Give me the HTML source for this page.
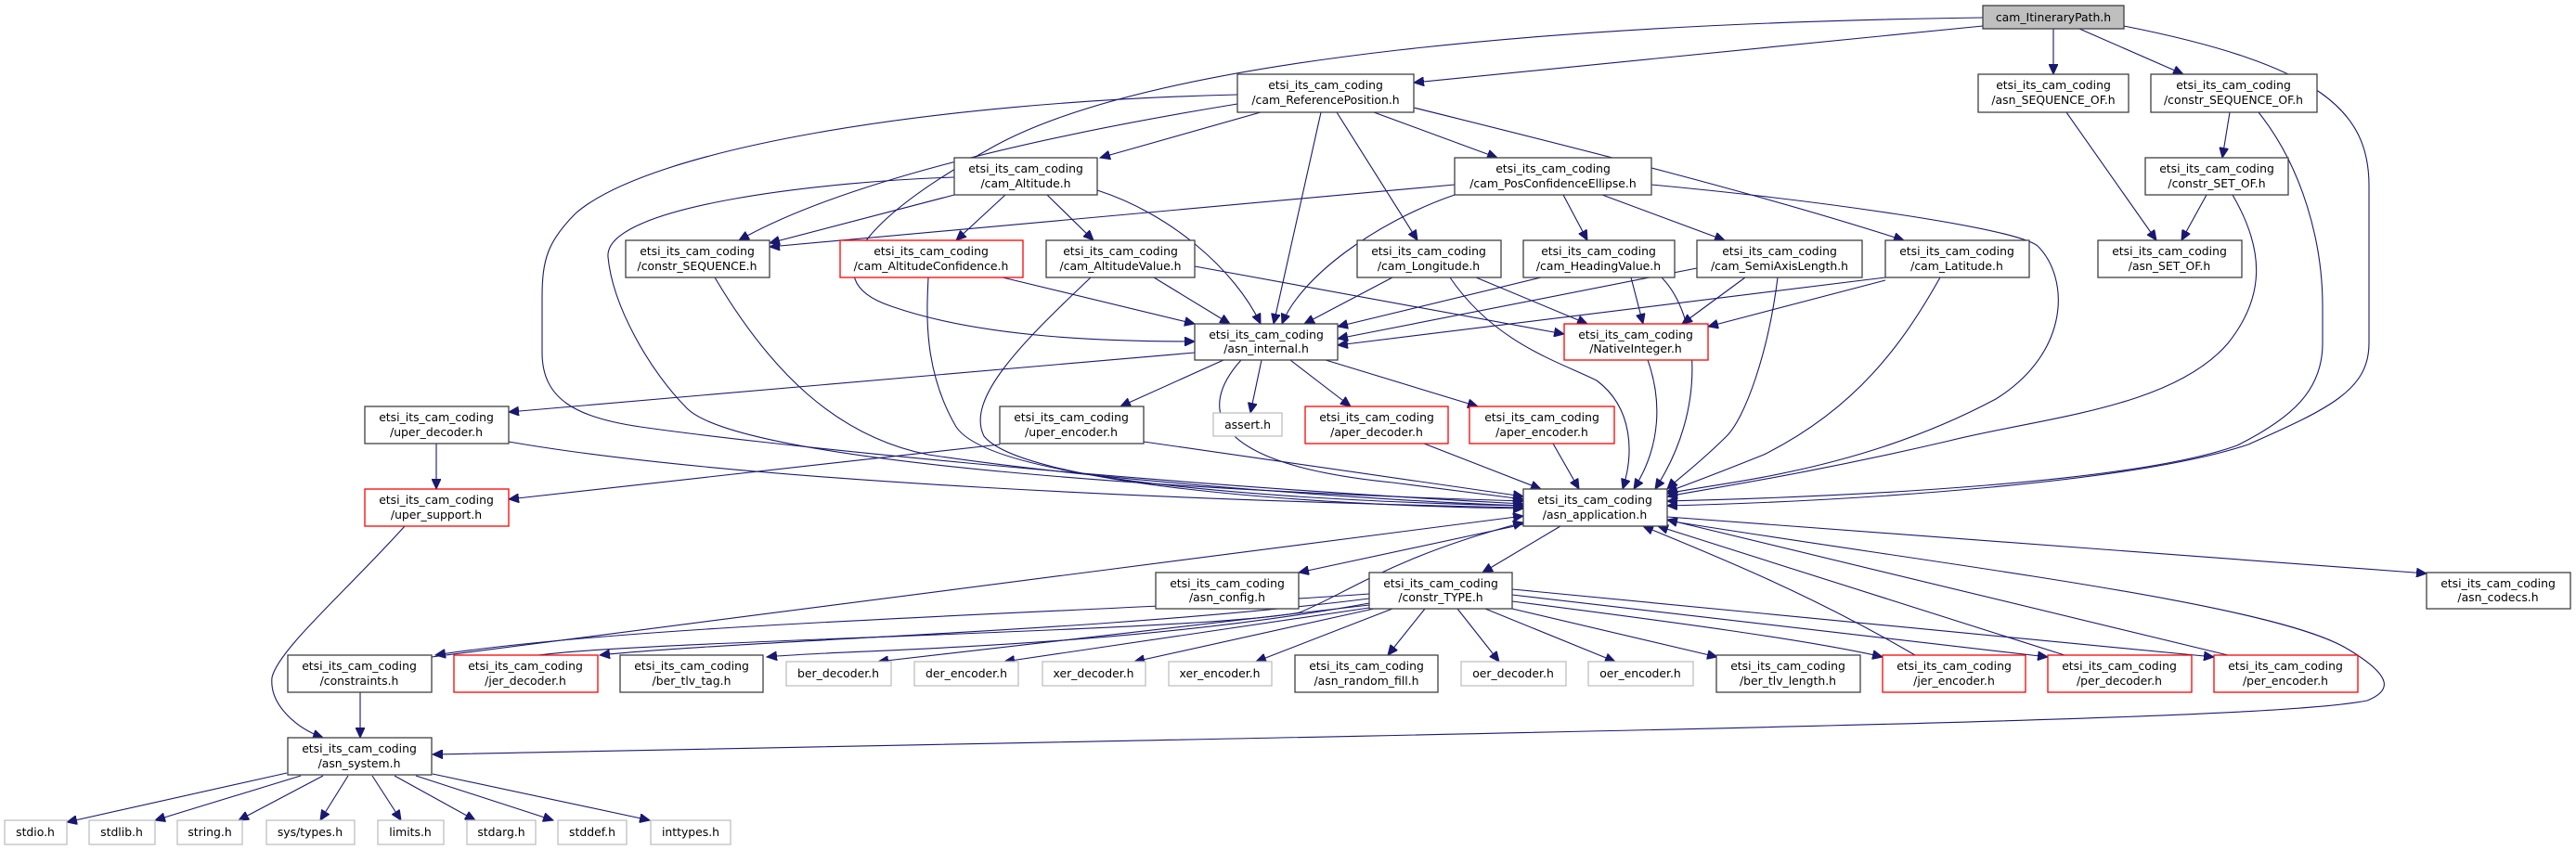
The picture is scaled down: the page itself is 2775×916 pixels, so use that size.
<!DOCTYPE html>
<html><head><meta charset="utf-8"><style>
html,body{margin:0;padding:0;background:#fff;}
svg{display:block;}
text{font-family:"DejaVu Sans","Liberation Sans",sans-serif;font-size:12.4px;fill:#000;text-anchor:middle;}
.n{fill:#fff;stroke:#404040;stroke-width:1.3;}
.r{fill:#fff;stroke:#ff0000;stroke-width:1.3;}
.g{fill:#fff;stroke:#bfbfbf;stroke-width:1.3;}
.e{fill:none;stroke:#191970;stroke-width:1.1;marker-end:url(#a);}
</style></head><body>
<svg width="2775" height="916" viewBox="0 0 2775 916" xmlns="http://www.w3.org/2000/svg">
<defs><marker id="a" markerUnits="userSpaceOnUse" markerWidth="12" markerHeight="10" refX="11" refY="5" orient="auto"><path d="M0,0 L11,5 L0,10 z" fill="#191970" stroke="#191970"/></marker></defs>
<g>
<path class="e" d="M2136,28 C1900,50 1700,70 1523,89"/>
<path class="e" d="M2212,31 L2212,80"/>
<path class="e" d="M2240,31 L2352,80"/>
<path class="e" d="M2288,28 C2500,70 2552,120 2552,200 L2552,370 C2552,420 2510,440 2422,479 C2300,520 2000,540 1796,545"/>
<path class="e" d="M2136,19 C1700,25 1250,60 1072,157 C940,230 870,300 960,330 C1060,365 1200,368 1287,368"/>
<path class="e" d="M1333,112 C1100,150 900,200 796,259"/>
<path class="e" d="M1358,121 L1185,170"/>
<path class="e" d="M1423,121 L1372,349"/>
<path class="e" d="M1440,121 L1527,259"/>
<path class="e" d="M1480,121 L1613,170"/>
<path class="e" d="M1523,116 C1700,160 1900,210 2051,259"/>
<path class="e" d="M1333,102 C1000,110 700,160 620,230 C590,260 584,280 584,320 L584,380 C584,430 620,450 690,460 C800,476 1200,520 1641,543"/>
<path class="e" d="M1028,210 L829,262"/>
<path class="e" d="M1083,210 L1030,259"/>
<path class="e" d="M1128,210 L1178,259"/>
<path class="e" d="M1182,205 C1260,230 1330,290 1358,349"/>
<path class="e" d="M1028,191 C900,195 650,220 655,277 C660,330 700,400 740,440 C800,500 1300,530 1641,540"/>
<path class="e" d="M1567,199 L829,266"/>
<path class="e" d="M1567,210 C1480,240 1400,300 1381,349"/>
<path class="e" d="M1684,210 L1710,259"/>
<path class="e" d="M1726,210 L1858,259"/>
<path class="e" d="M1779,199 C1950,215 2170,245 2195,265 C2230,300 2230,380 2150,430 C2000,510 1850,520 1796,532"/>
<path class="e" d="M1080,299 L1287,349"/>
<path class="e" d="M1000,299 C998,340 995,400 1030,460 C1070,520 1400,540 1641,545"/>
<path class="e" d="M1243,299 L1325,349"/>
<path class="e" d="M1287,287 L1685,360"/>
<path class="e" d="M1175,299 C1100,370 1040,430 1060,470 C1100,520 1400,545 1641,548"/>
<path class="e" d="M1500,299 L1405,349"/>
<path class="e" d="M1590,299 L1710,349"/>
<path class="e" d="M1562,299 C1610,370 1680,390 1720,410 C1760,440 1760,490 1748,527"/>
<path class="e" d="M1660,299 L1441,352"/>
<path class="e" d="M1757,299 L1770,349"/>
<path class="e" d="M1790,299 C1830,340 1840,440 1783,527"/>
<path class="e" d="M1828,289 L1441,365"/>
<path class="e" d="M1880,299 L1812,349"/>
<path class="e" d="M1915,299 C1905,380 1880,450 1860,470 C1830,500 1805,518 1796,527"/>
<path class="e" d="M2031,299 L1441,372"/>
<path class="e" d="M2031,302 L1840,352"/>
<path class="e" d="M2090,299 C2050,370 2000,440 1900,490 C1850,510 1810,525 1796,530"/>
<path class="e" d="M2226,121 L2323,259"/>
<path class="e" d="M2402,121 L2394,170"/>
<path class="e" d="M2433,121 C2480,180 2502,260 2502,330 L2502,370 C2502,420 2470,450 2410,480 C2300,520 2000,535 1796,540"/>
<path class="e" d="M2377,210 L2350,259"/>
<path class="e" d="M2405,210 C2440,270 2440,320 2400,370 C2340,440 2200,450 2100,475 C1950,510 1850,525 1796,535"/>
<path class="e" d="M1287,380 L548,444"/>
<path class="e" d="M1318,388 L1207,438"/>
<path class="e" d="M1359,388 L1347,445"/>
<path class="e" d="M1390,388 L1455,438"/>
<path class="e" d="M1428,388 L1592,438"/>
<path class="e" d="M1337,388 C1290,440 1300,500 1500,520 C1580,530 1620,535 1641,538"/>
<path class="e" d="M1775,388 C1790,430 1790,480 1760,527"/>
<path class="e" d="M770,299 C830,400 900,470 1000,490 C1200,520 1500,540 1641,545"/>
<path class="e" d="M470,478 L470,527"/>
<path class="e" d="M548,476 C800,520 1300,540 1641,547"/>
<path class="e" d="M1077,479 L548,538"/>
<path class="e" d="M1232,476 L1641,535"/>
<path class="e" d="M1534,478 L1660,527"/>
<path class="e" d="M1673,478 L1701,527"/>
<path class="e" d="M436,567 C370,640 300,700 293,730 C290,760 320,785 348,795"/>
<path class="e" d="M1641,565 L1399,617"/>
<path class="e" d="M1681,567 L1597,617"/>
<path class="e" d="M1796,557 C2100,580 2400,600 2614,618"/>
<path class="e" d="M1796,561 C2100,610 2450,650 2530,700 C2580,730 2575,745 2550,755 C2450,775 1900,785 466,813"/>
<path class="e" d="M388,746 L388,795"/>
<path class="e" d="M465,708 L1641,556"/>
<path class="e" d="M580,706 C700,690 1300,680 1400,660 C1450,640 1500,600 1641,563"/>
<path class="e" d="M1475,640 C1200,660 700,670 469,706"/>
<path class="e" d="M1475,645 C1200,680 800,690 646,706"/>
<path class="e" d="M1475,650 C1200,700 900,700 826,708"/>
<path class="e" d="M1475,652 L946,713"/>
<path class="e" d="M1475,655 L1082,713"/>
<path class="e" d="M1480,656 L1222,713"/>
<path class="e" d="M1500,656 L1353,713"/>
<path class="e" d="M1535,656 L1495,706"/>
<path class="e" d="M1570,656 L1615,713"/>
<path class="e" d="M1600,656 L1740,713"/>
<path class="e" d="M1629,656 L1850,708"/>
<path class="e" d="M1629,648 C1800,670 1950,690 2028,708"/>
<path class="e" d="M1629,641 L2206,708"/>
<path class="e" d="M1629,635 L2385,708"/>
<path class="e" d="M2063,706 C1950,640 1850,600 1770,567"/>
<path class="e" d="M2224,706 L1786,567"/>
<path class="e" d="M2400,706 L1796,560"/>
<path class="e" d="M309,833 L72,886"/>
<path class="e" d="M324,836 L167,884"/>
<path class="e" d="M348,836 L257,884"/>
<path class="e" d="M375,836 L345,884"/>
<path class="e" d="M401,836 L432,884"/>
<path class="e" d="M425,836 L512,884"/>
<path class="e" d="M448,836 L596,884"/>
<path class="e" d="M466,834 L700,884"/>
</g>
<g>
<rect x="2136" y="6" width="152" height="25" fill="#bfbfbf" stroke="#404040" stroke-width="1.3"/><text x="2212" y="23">cam_ItineraryPath.h</text>
<rect class="n" x="1333" y="80" width="190" height="41"/><text x="1428" y="96">etsi_its_cam_coding</text><text x="1428" y="112">/cam_ReferencePosition.h</text>
<rect class="n" x="2131" y="80" width="162" height="41"/><text x="2212" y="96">etsi_its_cam_coding</text><text x="2212" y="112">/asn_SEQUENCE_OF.h</text>
<rect class="n" x="2317" y="80" width="179" height="41"/><text x="2406" y="96">etsi_its_cam_coding</text><text x="2406" y="112">/constr_SEQUENCE_OF.h</text>
<rect class="n" x="1028" y="170" width="154" height="40"/><text x="1105" y="186">etsi_its_cam_coding</text><text x="1105" y="202">/cam_Altitude.h</text>
<rect class="n" x="1567" y="170" width="212" height="40"/><text x="1673" y="186">etsi_its_cam_coding</text><text x="1673" y="202">/cam_PosConfidenceEllipse.h</text>
<rect class="n" x="2311" y="170" width="154" height="40"/><text x="2388" y="186">etsi_its_cam_coding</text><text x="2388" y="202">/constr_SET_OF.h</text>
<rect class="n" x="674" y="259" width="155" height="40"/><text x="751" y="275">etsi_its_cam_coding</text><text x="751" y="291">/constr_SEQUENCE.h</text>
<rect class="r" x="905" y="259" width="197" height="40"/><text x="1003" y="275">etsi_its_cam_coding</text><text x="1003" y="291">/cam_AltitudeConfidence.h</text>
<rect class="n" x="1127" y="259" width="160" height="40"/><text x="1207" y="275">etsi_its_cam_coding</text><text x="1207" y="291">/cam_AltitudeValue.h</text>
<rect class="n" x="1462" y="259" width="155" height="40"/><text x="1539" y="275">etsi_its_cam_coding</text><text x="1539" y="291">/cam_Longitude.h</text>
<rect class="n" x="1641" y="259" width="163" height="40"/><text x="1722" y="275">etsi_its_cam_coding</text><text x="1722" y="291">/cam_HeadingValue.h</text>
<rect class="n" x="1828" y="259" width="178" height="40"/><text x="1917" y="275">etsi_its_cam_coding</text><text x="1917" y="291">/cam_SemiAxisLength.h</text>
<rect class="n" x="2031" y="259" width="155" height="40"/><text x="2108" y="275">etsi_its_cam_coding</text><text x="2108" y="291">/cam_Latitude.h</text>
<rect class="n" x="2260" y="259" width="155" height="40"/><text x="2337" y="275">etsi_its_cam_coding</text><text x="2337" y="291">/asn_SET_OF.h</text>
<rect class="n" x="1287" y="349" width="154" height="39"/><text x="1364" y="365">etsi_its_cam_coding</text><text x="1364" y="380">/asn_internal.h</text>
<rect class="r" x="1685" y="349" width="155" height="39"/><text x="1762" y="365">etsi_its_cam_coding</text><text x="1762" y="380">/NativeInteger.h</text>
<rect class="n" x="393" y="438" width="155" height="40"/><text x="470" y="454">etsi_its_cam_coding</text><text x="470" y="470">/uper_decoder.h</text>
<rect class="n" x="1077" y="438" width="155" height="40"/><text x="1154" y="454">etsi_its_cam_coding</text><text x="1154" y="470">/uper_encoder.h</text>
<rect class="g" x="1307" y="445" width="74" height="25"/><text x="1344" y="462">assert.h</text>
<rect class="r" x="1406" y="438" width="154" height="40"/><text x="1483" y="454">etsi_its_cam_coding</text><text x="1483" y="470">/aper_decoder.h</text>
<rect class="r" x="1583" y="438" width="156" height="40"/><text x="1661" y="454">etsi_its_cam_coding</text><text x="1661" y="470">/aper_encoder.h</text>
<rect class="r" x="393" y="527" width="155" height="40"/><text x="470" y="543">etsi_its_cam_coding</text><text x="470" y="559">/uper_support.h</text>
<rect class="n" x="1641" y="527" width="155" height="40"/><text x="1718" y="543">etsi_its_cam_coding</text><text x="1718" y="559">/asn_application.h</text>
<rect class="n" x="1245" y="617" width="154" height="39"/><text x="1322" y="633">etsi_its_cam_coding</text><text x="1322" y="648">/asn_config.h</text>
<rect class="n" x="1475" y="617" width="154" height="39"/><text x="1552" y="633">etsi_its_cam_coding</text><text x="1552" y="648">/constr_TYPE.h</text>
<rect class="n" x="2614" y="617" width="155" height="39"/><text x="2691" y="633">etsi_its_cam_coding</text><text x="2691" y="648">/asn_codecs.h</text>
<rect class="n" x="310" y="706" width="155" height="40"/><text x="387" y="722">etsi_its_cam_coding</text><text x="387" y="738">/constraints.h</text>
<rect class="r" x="489" y="706" width="155" height="40"/><text x="566" y="722">etsi_its_cam_coding</text><text x="566" y="738">/jer_decoder.h</text>
<rect class="n" x="668" y="706" width="154" height="40"/><text x="745" y="722">etsi_its_cam_coding</text><text x="745" y="738">/ber_tlv_tag.h</text>
<rect class="g" x="847" y="713" width="113" height="26"/><text x="903" y="730">ber_decoder.h</text>
<rect class="g" x="985" y="713" width="112" height="26"/><text x="1041" y="730">der_encoder.h</text>
<rect class="g" x="1123" y="713" width="111" height="26"/><text x="1178" y="730">xer_decoder.h</text>
<rect class="g" x="1259" y="713" width="111" height="26"/><text x="1314" y="730">xer_encoder.h</text>
<rect class="n" x="1395" y="706" width="154" height="40"/><text x="1472" y="722">etsi_its_cam_coding</text><text x="1472" y="738">/asn_random_fill.h</text>
<rect class="g" x="1574" y="713" width="113" height="26"/><text x="1630" y="730">oer_decoder.h</text>
<rect class="g" x="1711" y="713" width="113" height="26"/><text x="1767" y="730">oer_encoder.h</text>
<rect class="n" x="1849" y="706" width="155" height="40"/><text x="1926" y="722">etsi_its_cam_coding</text><text x="1926" y="738">/ber_tlv_length.h</text>
<rect class="r" x="2028" y="706" width="154" height="40"/><text x="2105" y="722">etsi_its_cam_coding</text><text x="2105" y="738">/jer_encoder.h</text>
<rect class="r" x="2206" y="706" width="155" height="40"/><text x="2283" y="722">etsi_its_cam_coding</text><text x="2283" y="738">/per_decoder.h</text>
<rect class="r" x="2385" y="706" width="155" height="40"/><text x="2462" y="722">etsi_its_cam_coding</text><text x="2462" y="738">/per_encoder.h</text>
<rect class="n" x="310" y="795" width="155" height="40"/><text x="387" y="811">etsi_its_cam_coding</text><text x="387" y="827">/asn_system.h</text>
<rect class="g" x="5" y="884" width="67" height="26"/><text x="38" y="901">stdio.h</text>
<rect class="g" x="96" y="884" width="71" height="26"/><text x="131" y="901">stdlib.h</text>
<rect class="g" x="191" y="884" width="70" height="26"/><text x="226" y="901">string.h</text>
<rect class="g" x="287" y="884" width="95" height="26"/><text x="334" y="901">sys/types.h</text>
<rect class="g" x="407" y="884" width="71" height="26"/><text x="442" y="901">limits.h</text>
<rect class="g" x="503" y="884" width="74" height="26"/><text x="540" y="901">stdarg.h</text>
<rect class="g" x="601" y="884" width="74" height="26"/><text x="638" y="901">stddef.h</text>
<rect class="g" x="701" y="884" width="86" height="26"/><text x="744" y="901">inttypes.h</text>
</g>
</svg>
</body></html>
